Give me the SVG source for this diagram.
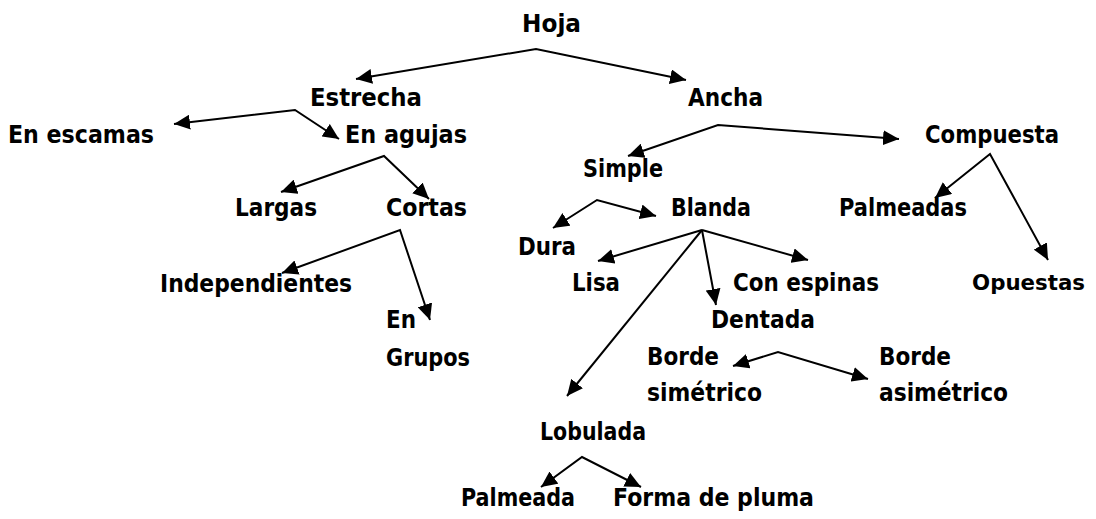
<svg xmlns="http://www.w3.org/2000/svg" width="1096" height="519" viewBox="0 0 1096 519">
<style>
text{font-family:"DejaVu Sans","Liberation Sans",sans-serif;font-weight:bold;font-size:24px;fill:#000}
.c{fill:none;stroke:#000;stroke-width:2}
</style>
<defs>
<marker id="ah" markerUnits="userSpaceOnUse" markerWidth="17" markerHeight="15" refX="16" refY="7.5" orient="auto-start-reverse">
<path d="M0,0 L16,7.5 L0,15 z" fill="#000"/>
</marker>
</defs>
<rect width="1096" height="519" fill="#fff"/>
<g id="connectors">
<path class="c" d="M356,79 L536,49 L686,80" marker-start="url(#ah)" marker-end="url(#ah)"/>
<path class="c" d="M174,124 L295,110 L339,139" marker-start="url(#ah)" marker-end="url(#ah)"/>
<path class="c" d="M281,192 L384,156 L429,199" marker-start="url(#ah)" marker-end="url(#ah)"/>
<path class="c" d="M282,273 L400,230 L430,320" marker-start="url(#ah)" marker-end="url(#ah)"/>
<path class="c" d="M628,156 L718,125 L899,139" marker-start="url(#ah)" marker-end="url(#ah)"/>
<path class="c" d="M935,198 L990,154 L1048,260" marker-start="url(#ah)" marker-end="url(#ah)"/>
<path class="c" d="M553,228 L597,200 L656,216" marker-start="url(#ah)" marker-end="url(#ah)"/>
<path class="c" d="M702,230 L598,261" marker-end="url(#ah)"/>
<path class="c" d="M702,230 L716,305" marker-end="url(#ah)"/>
<path class="c" d="M702,230 L808,260" marker-end="url(#ah)"/>
<path class="c" d="M702,230 L567,396" marker-end="url(#ah)"/>
<path class="c" d="M733,366 L778,352 L868,379" marker-start="url(#ah)" marker-end="url(#ah)"/>
<path class="c" d="M541,487 L582,457 L641,487" marker-start="url(#ah)" marker-end="url(#ah)"/>
</g>
<g id="hoja"><text x="522" y="32" textLength="59" lengthAdjust="spacingAndGlyphs">Hoja</text></g>
<g id="estrecha"><text x="310" y="106" textLength="112" lengthAdjust="spacingAndGlyphs">Estrecha</text></g>
<g id="ancha"><text x="688" y="106" textLength="75" lengthAdjust="spacingAndGlyphs">Ancha</text></g>
<g id="en-escamas"><text x="8" y="143" textLength="146" lengthAdjust="spacingAndGlyphs">En escamas</text></g>
<g id="en-agujas"><text x="345" y="143" textLength="122" lengthAdjust="spacingAndGlyphs">En agujas</text></g>
<g id="compuesta"><text x="925" y="143" textLength="134" lengthAdjust="spacingAndGlyphs">Compuesta</text></g>
<g id="simple"><text x="583" y="177" textLength="80" lengthAdjust="spacingAndGlyphs">Simple</text></g>
<g id="largas"><text x="235" y="216" textLength="82" lengthAdjust="spacingAndGlyphs">Largas</text></g>
<g id="cortas"><text x="386" y="216" textLength="81" lengthAdjust="spacingAndGlyphs">Cortas</text></g>
<g id="blanda"><text x="671" y="216" textLength="80" lengthAdjust="spacingAndGlyphs">Blanda</text></g>
<g id="palmeadas"><text x="839" y="216" textLength="128" lengthAdjust="spacingAndGlyphs">Palmeadas</text></g>
<g id="dura"><text x="518" y="255" textLength="58" lengthAdjust="spacingAndGlyphs">Dura</text></g>
<g id="independientes"><text x="160" y="292" textLength="192" lengthAdjust="spacingAndGlyphs">Independientes</text></g>
<g id="lisa"><text x="572" y="291" textLength="48" lengthAdjust="spacingAndGlyphs">Lisa</text></g>
<g id="con-espinas"><text x="733" y="291" textLength="146" lengthAdjust="spacingAndGlyphs">Con espinas</text></g>
<g id="opuestas"><text x="972" y="290" style="font-size:22px" textLength="113" lengthAdjust="spacingAndGlyphs">Opuestas</text></g>
<g id="en-grupos"><text x="386" y="328"><tspan x="386" y="328" textLength="30" lengthAdjust="spacingAndGlyphs">En</tspan><tspan x="386" y="366" textLength="84" lengthAdjust="spacingAndGlyphs">Grupos</tspan></text></g>
<g id="dentada"><text x="711" y="328" textLength="104" lengthAdjust="spacingAndGlyphs">Dentada</text></g>
<g id="borde-simetrico"><text x="647" y="365"><tspan x="647" y="365" textLength="72" lengthAdjust="spacingAndGlyphs">Borde</tspan><tspan x="647" y="401" textLength="115" lengthAdjust="spacingAndGlyphs">simétrico</tspan></text></g>
<g id="borde-asimetrico"><text x="879" y="365"><tspan x="879" y="365" textLength="72" lengthAdjust="spacingAndGlyphs">Borde</tspan><tspan x="879" y="401" textLength="129" lengthAdjust="spacingAndGlyphs">asimétrico</tspan></text></g>
<g id="lobulada"><text x="540" y="440" textLength="106" lengthAdjust="spacingAndGlyphs">Lobulada</text></g>
<g id="palmeada"><text x="461" y="506" textLength="114" lengthAdjust="spacingAndGlyphs">Palmeada</text></g>
<g id="forma-de-pluma"><text x="613" y="506" textLength="201" lengthAdjust="spacingAndGlyphs">Forma de pluma</text></g>
</svg>
